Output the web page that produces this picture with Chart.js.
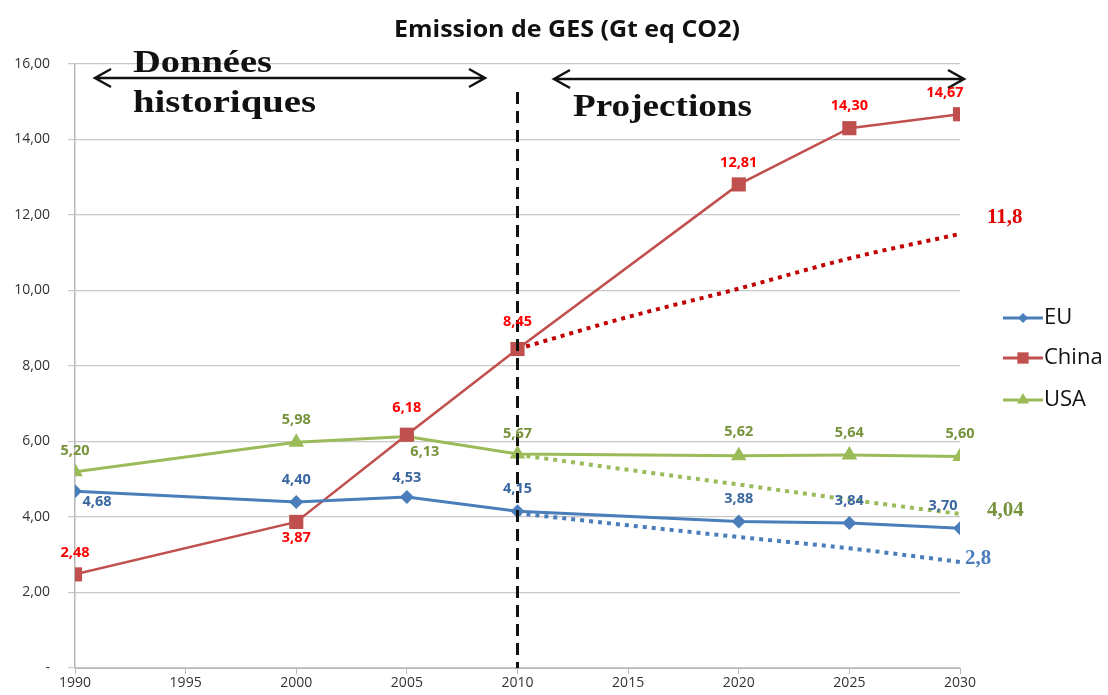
<!DOCTYPE html>
<html>
<head>
<meta charset="utf-8">
<script src="https://cdn.jsdelivr.net/npm/chart.js@4"></script>
<style>
  html, body { margin: 0; padding: 0; background: #fff; }
  #wrap { width: 1108px; height: 695px; }
</style>
</head>
<body>
<div id="wrap"><canvas id="chart" width="1108" height="695"></canvas></div>
<script>
// chart data
const years = [1990, 2000, 2005, 2010, 2020, 2025, 2030];
const euValues = [4.68, 4.40, 4.53, 4.15, 3.88, 3.84, 3.70];
const chinaValues = [2.48, 3.87, 6.18, 8.45, 12.81, 14.30, 14.67];
const usaValues = [5.20, 5.98, 6.13, 5.67, 5.62, 5.64, 5.60];

// dotted projection lines
const projYears = [2010, 2015, 2020, 2025, 2030];
const chinaProj = [8.45, 9.3, 10.05, 10.85, 11.5];
const euProj = [4.1, 3.78, 3.47, 3.17, 2.81];
const usaProj = [5.65, 5.25, 4.86, 4.46, 4.08];
const projLabels = ["11,8", "2,8", "4,04"];

const yTicks = [0, 2, 4, 6, 8, 10, 12, 14, 16];
const xTicks = [1990, 1995, 2000, 2005, 2010, 2015, 2020, 2025, 2030];

const EU_COL = "#4a7ebb";
const CHINA_COL = "#c0504d";
const USA_COL = "#9bbb59";

const pts = (xs, ys) => xs.map((x, i) => ({ x: x, y: ys[i] }));
const fmt = (v) => v.toFixed(2).replace(".", ",");

// label offsets [dx, dy] per point (above unless noted)
const euLabelPos = [[22, 11], [0, -22], [0, -19], [0, -22], [0, -23], [0, -22], [-17, -22]];
const chinaLabelPos = [[0, -22], [0, 16], [0, -27], [0, -27], [0, -22], [0, -22], [-15, -21]];
const usaLabelPos = [[0, -21], [0, -22], [18, 15], [0, -20], [0, -24], [0, -22], [0, -23]];

// draw text squeezed/stretched to a given width
function fitText(ctx, txt, x, y, w) {
  const m = ctx.measureText(txt).width;
  ctx.save();
  ctx.translate(x, y);
  ctx.scale(w / m, 1);
  ctx.fillText(txt, 0, 0);
  ctx.restore();
}

const overlay = {
  id: "overlay",
  afterDatasetsDraw(chart) {
    const ctx = chart.ctx;
    const xs = chart.scales.x, ys = chart.scales.y;
    const area = chart.chartArea;
    ctx.save();

    // vertical dashed line at 2010
    const x10 = xs.getPixelForValue(2010);
    ctx.strokeStyle = "#111";
    ctx.lineWidth = 3;
    ctx.setLineDash([12, 7]);
    ctx.beginPath();
    ctx.moveTo(x10, 92);
    ctx.lineTo(x10, area.bottom);
    ctx.stroke();
    ctx.setLineDash([]);

    // double arrows
    function arrow(x1, x2, y) {
      ctx.strokeStyle = "#111";
      ctx.lineWidth = 2.5;
      ctx.beginPath();
      ctx.moveTo(x1, y); ctx.lineTo(x2, y);
      ctx.moveTo(x1 + 16, y - 9); ctx.lineTo(x1, y); ctx.lineTo(x1 + 16, y + 9);
      ctx.moveTo(x2 - 16, y - 9); ctx.lineTo(x2, y); ctx.lineTo(x2 - 16, y + 9);
      ctx.stroke();
    }
    arrow(95, 485, 78);
    arrow(554, 964, 79);

    ctx.fillStyle = "#111";
    ctx.font = "bold 32px 'Liberation Serif'";
    ctx.textAlign = "left";
    ctx.textBaseline = "alphabetic";
    fitText(ctx, "Données", 133, 72, 139);
    fitText(ctx, "historiques", 133, 112, 183);
    fitText(ctx, "Projections", 573, 116, 179);

    // title
    ctx.font = "bold 23px 'Open Sans'";
    ctx.textAlign = "left";
    ctx.textBaseline = "middle";
    fitText(ctx, "Emission de GES (Gt eq CO2)", 394, 30, 346);

    // data labels
    ctx.textAlign = "center";
    ctx.font = "bold 14.5px 'Open Sans'";
    function labels(vals, pos, col) {
      ctx.fillStyle = col;
      vals.forEach((v, i) => {
        const px = xs.getPixelForValue(years[i]) + pos[i][0];
        const py = ys.getPixelForValue(v) + pos[i][1];
        ctx.fillText(fmt(v), px, py);
      });
    }
    labels(euValues, euLabelPos, "#3b67a0");
    labels(chinaValues, chinaLabelPos, "#ff0000");
    labels(usaValues, usaLabelPos, "#77933c");

    // projection end labels
    ctx.font = "bold 21px 'Liberation Serif'";
    ctx.textAlign = "left";
    const xEnd = xs.getPixelForValue(2030);
    ctx.fillStyle = "#e00000";
    ctx.fillText(projLabels[0], xEnd + 27, ys.getPixelForValue(chinaProj[4]) - 16);
    ctx.fillStyle = "#4a7ebb";
    ctx.fillText(projLabels[1], xEnd + 5, ys.getPixelForValue(euProj[4]) - 3);
    ctx.fillStyle = "#77933c";
    ctx.fillText(projLabels[2], xEnd + 27, ys.getPixelForValue(usaProj[4]) - 3);

    // legend
    const legend = [["EU", EU_COL, "rectRot", 5], ["China", CHINA_COL, "rect", 8], ["USA", USA_COL, "triangle", 7]];
    const ly = [318, 358, 400];
    legend.forEach((it, i) => {
      ctx.strokeStyle = it[1];
      ctx.lineWidth = 3;
      ctx.beginPath();
      ctx.moveTo(1003, ly[i]); ctx.lineTo(1043, ly[i]);
      ctx.stroke();
      ctx.fillStyle = it[1];
      Chart.helpers.drawPoint(ctx, { pointStyle: it[2], radius: it[3], borderWidth: 0 }, 1023, ly[i]);
      ctx.fillStyle = "#111";
      ctx.font = "22px 'Open Sans'";
      ctx.textAlign = "left";
      ctx.fillText(it[0], 1044, ly[i]);
    });
    ctx.restore();
  }
};

function lineSet(label, data, col, style, radius, width) {
  return {
    label: label,
    data: data,
    borderColor: col,
    backgroundColor: col,
    borderWidth: width,
    pointStyle: style,
    pointRadius: radius,
    pointHoverRadius: radius,
    pointBorderWidth: 0,
    tension: 0,
    order: 1
  };
}
function projSet(data, col) {
  return {
    label: "proj",
    data: data,
    borderColor: col,
    borderWidth: 4,
    borderDash: [4, 5],
    pointRadius: 0,
    cubicInterpolationMode: "monotone",
    order: 2
  };
}

new Chart(document.getElementById("chart"), {
  type: "line",
  data: {
    datasets: [
      projSet(pts(projYears, chinaProj), "#c00000"),
      projSet(pts(projYears, euProj), "#4a7ebb"),
      projSet(pts(projYears, usaProj), "#9bbb59"),
      lineSet("EU", pts(years, euValues), EU_COL, "rectRot", 7, 3),
      lineSet("China", pts(years, chinaValues), CHINA_COL, "rect", 10, 2.5),
      lineSet("USA", pts(years, usaValues), USA_COL, "triangle", 9, 3)
    ]
  },
  options: {
    responsive: false,
    animation: false,
    layout: { padding: { top: 64, right: 148, left: 0, bottom: 0 } },
    plugins: { legend: { display: false }, tooltip: { enabled: false } },
    scales: {
      x: {
        type: "linear",
        min: 1990,
        max: 2030,
        afterBuildTicks: (s) => { s.ticks = xTicks.map((v) => ({ value: v })); },
        afterFit: (s) => { s.height = 27; },
        grid: { drawOnChartArea: false, drawTicks: true, tickLength: 6, color: "#b8b8b8" },
        border: { display: true, color: "#b8b8b8", width: 1 },
        ticks: {
          color: "#333",
          font: { family: "'Open Sans'", size: 14 },
          padding: 1,
          maxRotation: 0,
          callback: (v) => String(v)
        }
      },
      y: {
        min: 0,
        max: 16,
        afterBuildTicks: (s) => { s.ticks = yTicks.map((v) => ({ value: v })); },
        afterFit: (s) => { s.width = 75; },
        grid: { color: "#c8c8c8", tickLength: 7, lineWidth: 1.2 },
        border: { display: true, color: "#b8b8b8", width: 1.5 },
        ticks: {
          color: "#333",
          font: { family: "'Open Sans'", size: 14 },
          padding: 18,
          callback: (v) => (v === 0 ? "-" : fmt(v))
        }
      }
    }
  },
  plugins: [overlay]
});
</script>
</body>
</html>
